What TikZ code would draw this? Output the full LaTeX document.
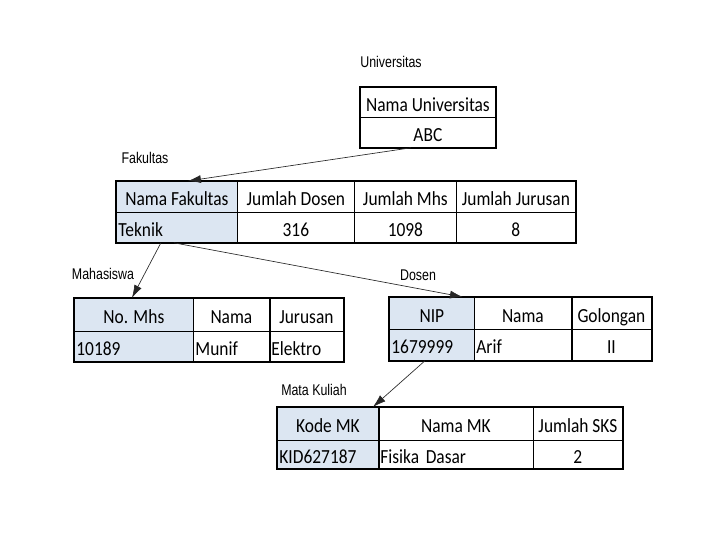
\documentclass[tikz,border=0pt]{standalone}
\usepackage{fontspec}
\usetikzlibrary{arrows.meta}
\newfontfamily\cellfont[FakeStretch=0.87]{Carlito}
\newfontfamily\lblfont[FakeStretch=0.8]{Liberation Sans}
\definecolor{keyblue}{RGB}{220,230,242}
\begin{document}
\begin{tikzpicture}[x=1pt,y=-1pt,
  cell/.style={draw=black, line width=0.8pt, inner sep=0pt, anchor=north west,
               text height=20pt, text depth=2pt,
               font=\cellfont\fontsize{20}{22}\selectfont},
  key/.style={cell, fill=keyblue},
  lft/.style={align=left, inner xsep=2pt},
  lbl/.style={font=\lblfont\fontsize{15.5}{16}\selectfont, inner sep=0pt},
  arr/.style={draw=black!85, line width=0.65pt, -{Latex[length=13pt,width=8pt]}},
  frame/.style={draw=black, line width=1.8pt}]
\useasboundingbox[fill=white] (0,0) rectangle (720,540);

% ---------- Universitas ----------
\node[lbl] (lbl-uni) at (391,62) {Universitas};
\node[cell, minimum width=135pt, minimum height=30pt] (uni-h) at (360,87) {Nama Universitas};
\node[cell, minimum width=135pt, minimum height=30pt] (uni-d) at (360,117) {ABC};
\draw[frame] (uni-h.north west) rectangle (uni-d.south east);

% ---------- Fakultas ----------
\node[lbl] (lbl-fak) at (145,158) {Fakultas};
\node[key, minimum width=121pt, minimum height=31pt] (fak-h1) at (116,181) {Nama Fakultas};
\node[cell, minimum width=117pt, minimum height=31pt] (fak-h2) at (237,181) {Jumlah Dosen};
\node[cell, minimum width=102pt, minimum height=31pt] (fak-h3) at (354,181) {Jumlah Mhs};
\node[cell, minimum width=119pt, minimum height=31pt] (fak-h4) at (456,181) {Jumlah Jurusan};
\node[key, lft, text width=117pt, minimum height=30pt] (fak-d1) at (116,212) {Teknik};
\node[cell, minimum width=117pt, minimum height=30pt] (fak-d2) at (237,212) {316};
\node[cell, minimum width=102pt, minimum height=30pt] (fak-d3) at (354,212) {1098};
\node[cell, minimum width=119pt, minimum height=30pt] (fak-d4) at (456,212) {8};
\draw[frame] (fak-h1.north west) rectangle (fak-d4.south east);

% ---------- Mahasiswa ----------
\node[lbl] (lbl-mhs) at (103,274) {Mahasiswa};
\node[key, minimum width=119pt, minimum height=33pt] (mhs-h1) at (74,298) {No. Mhs};
\node[cell, minimum width=76pt, minimum height=33pt] (mhs-h2) at (193,298) {Nama};
\node[cell, minimum width=74pt, minimum height=33pt] (mhs-h3) at (269,298) {Jurusan};
\node[key, lft, text width=115pt, minimum height=30pt] (mhs-d1) at (74,331) {10189};
\node[cell, lft, text width=72pt, minimum height=30pt] (mhs-d2) at (193,331) {Munif};
\node[cell, lft, text width=70pt, minimum height=30pt] (mhs-d3) at (269,331) {Elektro};
\draw[frame] (mhs-h1.north west) rectangle (mhs-d3.south east);
\draw[frame] (mhs-h2.north east) -- (mhs-d2.south east);

% ---------- Dosen ----------
\node[lbl] (lbl-dos) at (418,275) {Dosen};
\node[key, minimum width=85pt, minimum height=32pt] (dos-h1) at (389,297) {NIP};
\node[cell, minimum width=97pt, minimum height=32pt] (dos-h2) at (474,297) {Nama};
\node[cell, minimum width=80pt, minimum height=32pt] (dos-h3) at (571,297) {Golongan};
\node[key, lft, text width=81pt, minimum height=31pt] (dos-d1) at (389,329) {1679999};
\node[cell, lft, text width=93pt, minimum height=31pt] (dos-d2) at (474,329) {Arif};
\node[cell, minimum width=80pt, minimum height=31pt] (dos-d3) at (571,329) {II};
\draw[frame] (dos-h1.north west) rectangle (dos-d3.south east);
\draw[frame] (dos-h2.north east) -- (dos-d2.south east);

% ---------- Mata Kuliah ----------
\node[lbl] (lbl-mk) at (314,390) {Mata Kuliah};
\node[key, minimum width=101pt, minimum height=33pt] (mk-h1) at (277,407) {Kode MK};
\node[cell, minimum width=155pt, minimum height=33pt] (mk-h2) at (378,407) {Nama MK};
\node[cell, minimum width=89pt, minimum height=33pt] (mk-h3) at (533,407) {Jumlah SKS};
\node[key, lft, text width=97pt, minimum height=28pt] (mk-d1) at (277,440) {KID627187};
\node[cell, lft, text width=151pt, minimum height=28pt] (mk-d2) at (378,440) {Fisika Dasar};
\node[cell, minimum width=89pt, minimum height=28pt] (mk-d3) at (533,440) {2};
\draw[frame] (mk-h1.north west) rectangle (mk-d3.south east);
\draw[frame] (mk-h1.north east) -- (mk-d1.south east);

% ---------- connectors ----------
\draw[arr] ([xshift=-17pt]uni-d.south) -- ([xshift=11pt]fak-h1.north);
\draw[arr] ([xshift=-16pt]fak-d1.south) -- ([xshift=-2pt]mhs-h1.north);
\draw[arr] ([xshift=-3pt]fak-d1.south) -- ([xshift=31pt]dos-h1.north);
\draw[arr] ([xshift=-7pt]dos-d1.south) -- ([xshift=45pt]mk-h1.north);
\end{tikzpicture}
\end{document}
